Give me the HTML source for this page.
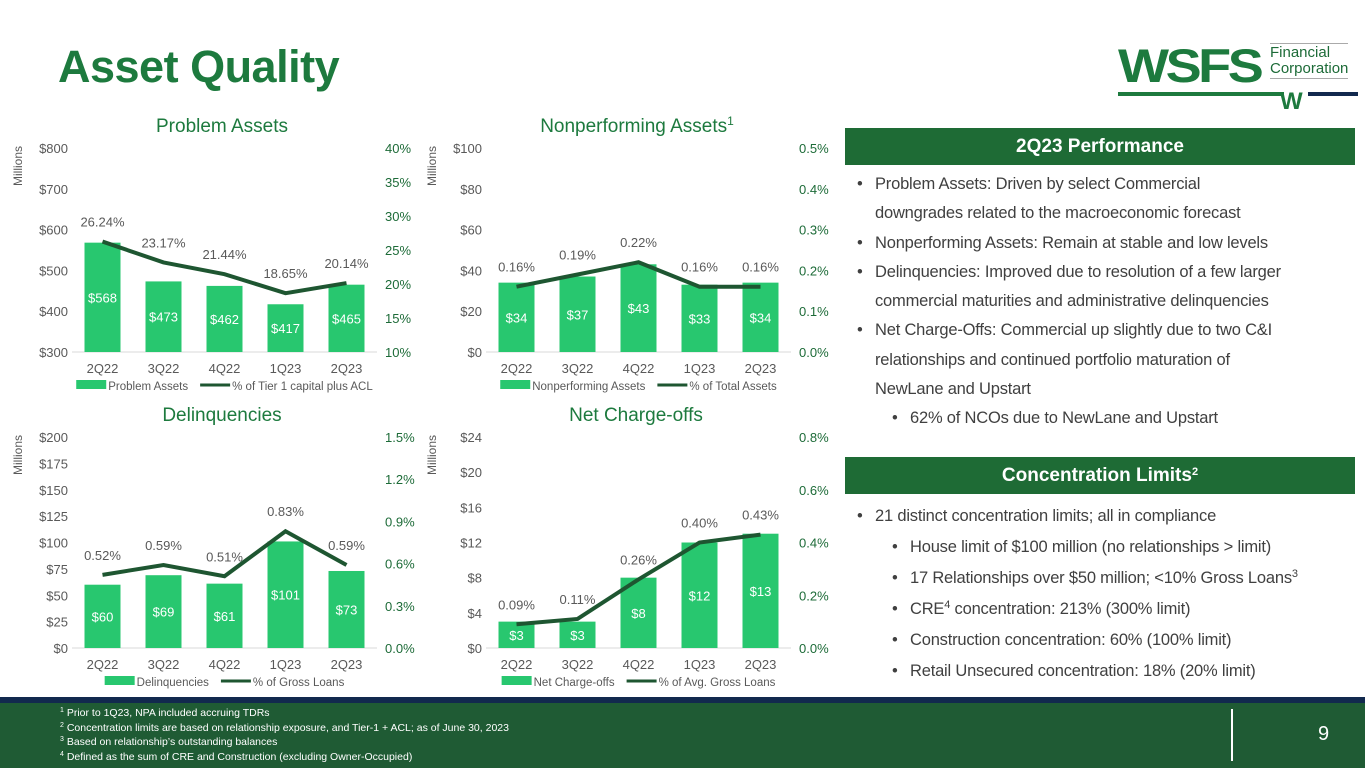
<!DOCTYPE html>
<html><head><meta charset="utf-8"><style>
body{margin:0;width:1365px;height:768px;overflow:hidden;background:#fff;font-family:"Liberation Sans",sans-serif;position:relative}
.abs{position:absolute}
#title{left:58px;top:41px;font-size:45px;font-weight:bold;color:#1d7a3e;letter-spacing:-0.5px}
.hdr{left:845px;width:510px;height:37px;background:#1e6b35;color:#fff;font-weight:bold;font-size:19px;text-align:center;line-height:37px}
.bl{font-size:16.5px;color:#404040;line-height:29.3px;white-space:nowrap;letter-spacing:-0.2px}
.bl div{position:relative}
.bl div:before{content:"•";position:absolute;left:-18px}
sup{line-height:0;vertical-align:6px;font-size:11px}
svg text{font-family:"Liberation Sans",sans-serif}
</style></head><body>
<div id="title" class="abs">Asset Quality</div>
<div class="abs" style="left:1118px;top:38px;width:240px;height:80px">
 <div class="abs" style="left:0;top:0;font-size:47px;font-weight:900;color:#1d7a3e;letter-spacing:-3px;font-family:'Liberation Sans',sans-serif;transform:scaleX(1.15);transform-origin:left">WSFS</div>
 <div class="abs" style="left:152px;top:5px;font-size:15px;color:#1d6b38;line-height:16px;border-top:1px solid #aaa;border-bottom:1px solid #aaa;padding:1px 0">Financial<br>Corporation</div>
 <div class="abs" style="left:0;top:54px;width:166px;height:4px;background:#1d7a3e"></div>
 <div class="abs" style="left:190px;top:54px;width:50px;height:4px;background:#12294e"></div>
 <div class="abs" style="left:162px;top:50px;font-size:24px;font-weight:900;color:#1d7a3e">W</div>
</div>

<svg class="abs" style="left:0;top:0" width="840" height="700" id="charts"></svg>

<div class="abs hdr" style="top:128px">2Q23 Performance</div>
<div class="abs bl" style="left:875px;top:170px;width:470px">
<div>Problem Assets: Driven by select Commercial<br>downgrades related to the macroeconomic forecast</div>
<div>Nonperforming Assets: Remain at stable and low levels</div>
<div>Delinquencies: Improved due to resolution of a few larger<br>commercial maturities and administrative delinquencies</div>
<div>Net Charge-Offs: Commercial up slightly due to two C&amp;I<br>relationships and continued portfolio maturation of<br>NewLane and Upstart</div>
<div style="margin-left:35px">62% of NCOs due to NewLane and Upstart</div>
</div>
<div class="abs hdr" style="top:457px">Concentration Limits<sup>2</sup></div>
<div class="abs bl" style="left:875px;top:501px;width:480px;line-height:31px">
<div>21 distinct concentration limits; all in compliance</div>
<div style="margin-left:35px">House limit of $100 million (no relationships &gt; limit)</div>
<div style="margin-left:35px">17 Relationships over $50 million; &lt;10% Gross Loans<sup>3</sup></div>
<div style="margin-left:35px">CRE<sup>4</sup> concentration: 213% (300% limit)</div>
<div style="margin-left:35px">Construction concentration: 60% (100% limit)</div>
<div style="margin-left:35px">Retail Unsecured concentration: 18% (20% limit)</div>
</div>

<div class="abs" style="left:0;top:697px;width:1365px;height:6px;background:#12294e"></div>
<div class="abs" style="left:0;top:703px;width:1365px;height:65px;background:#1f5b34">
 <div class="abs" style="left:60px;top:3px;font-size:10.5px;color:#fff;line-height:14.5px">
 <sup style="font-size:7px;vertical-align:4px">1</sup> Prior to 1Q23, NPA included accruing TDRs<br>
 <sup style="font-size:7px;vertical-align:4px">2</sup> Concentration limits are based on relationship exposure, and Tier-1 + ACL; as of June 30, 2023<br>
 <sup style="font-size:7px;vertical-align:4px">3</sup> Based on relationship’s outstanding balances<br>
 <sup style="font-size:7px;vertical-align:4px">4</sup> Defined as the sum of CRE and Construction (excluding Owner-Occupied)</div>
 <div class="abs" style="left:1231px;top:6px;width:2px;height:52px;background:#fff"></div>
 <div class="abs" style="left:1318px;top:20px;font-size:20px;color:#fff">9</div>
</div>

<script>
const categories=["2Q22","3Q22","4Q22","1Q23","2Q23"];
const problemAssets=[568,473,462,417,465];
const problemPct=[26.24,23.17,21.44,18.65,20.14];
const npaValues=[34,37,43,33,34];
const npaPct=[0.16,0.19,0.22,0.16,0.16];
const delinqValues=[60,69,61,101,73];
const delinqPct=[0.52,0.59,0.51,0.83,0.59];
const ncoValues=[3,3,8,12,13];
const ncoPct=[0.09,0.11,0.26,0.40,0.43];
const leftTicks1=[300,400,500,600,700,800], rightTicks1=[10,15,20,25,30,35,40];
const leftTicks2=[0,20,40,60,80,100], rightTicks2=[0,0.1,0.2,0.3,0.4,0.5];
const leftTicks3=[0,25,50,75,100,125,150,175,200], rightTicks3=[0,0.3,0.6,0.9,1.2,1.5];
const leftTicks4=[0,4,8,12,16,20,24], rightTicks4=[0,0.2,0.4,0.6,0.8];

const NS="http://www.w3.org/2000/svg";
const svg=document.getElementById('charts');
function mk(tag,attrs,parent,text){const e=document.createElementNS(NS,tag);for(const k in attrs)e.setAttribute(k,attrs[k]);if(text!==undefined)e.textContent=text;(parent||svg).appendChild(e);return e;}

function chart(c){
 const g=mk('g',{});
 
 
 const lmin=c.lt[0],lmax=c.lt[c.lt.length-1],rmin=c.rt[0],rmax=c.rt[c.rt.length-1];
 const yL=v=>c.y1-(v-lmin)/(lmax-lmin)*(c.y1-c.y0);
 const yR=v=>c.y1-(v-rmin)/(rmax-rmin)*(c.y1-c.y0);
 const step=(c.x1-c.x0)/categories.length;
 const xC=i=>c.x0+step*(i+0.5);
 const t=mk('text',{x:c.tx,y:c.y0-16,'text-anchor':'middle','font-size':19,fill:'#1d7a3e'},g,c.title);
 
 
 if(c.sup){mk('tspan',{'font-size':12,dy:-7},t,c.sup);}
 const m=mk('text',{transform:`translate(${c.x0-50},${c.y0+18}) rotate(-90)`,'text-anchor':'middle','font-size':12,fill:'#595959'},g,'Millions');
 
 
 c.lt.forEach(v=>{const e=mk('text',{x:c.x0-4,y:yL(v)+5,'text-anchor':'end','font-size':13,fill:'#595959'},g,'$'+v);
  
  });
 c.rt.forEach(v=>{const e=mk('text',{x:c.x1+8,y:yR(v)+5,'font-size':13,fill:'#1d6b38'},g,v.toFixed(c.rd)+'%');
  
  });
 mk('line',{x1:c.x0,x2:c.x1,y1:c.y1,y2:c.y1,stroke:'#d9d9d9'},g);
 c.bars.forEach((v,i)=>{
  const r=mk('rect',{x:xC(i)-18,y:yL(v),width:36,height:c.y1-yL(v),fill:'#28c76f'},g);
  
  
  const l=mk('text',{x:xC(i),y:(yL(v)+c.y1)/2+5,'text-anchor':'middle','font-size':13,fill:'#fff'},g,'$'+v);
  
  
  const x=mk('text',{x:xC(i),y:c.y1+21,'text-anchor':'middle','font-size':13,fill:'#595959'},g,categories[i]);
  
  
 });
 const p=mk('polyline',{points:c.line.map((v,i)=>xC(i)+','+yR(v)).join(' '),fill:'none',stroke:'#1e5631','stroke-width':4},g);
 
 
 c.line.forEach((v,i)=>{const l=mk('text',{x:xC(i),y:yR(v)-15,'text-anchor':'middle','font-size':13,fill:'#595959'},g,v.toFixed(2)+'%');
  
  });
 const ly=c.y1+38;
 const lg=mk('g',{},g);
 
 
 const r1=mk('rect',{y:ly-10,width:30,height:9,fill:'#28c76f'},lg);
 const t1=mk('text',{y:ly,'font-size':11.5,fill:'#595959'},lg,c.l1);
 const ln=mk('line',{y1:ly-5,y2:ly-5,stroke:'#1e5631','stroke-width':3},lg);
 const t2=mk('text',{y:ly,'font-size':11.5,fill:'#595959'},lg,c.l2);
 const w1=t1.getComputedTextLength(), w2=t2.getComputedTextLength();
 const total=32+w1+12+32+w2;
 let lx=(c.x0+c.x1)/2-total/2;
 r1.setAttribute('x',lx); t1.setAttribute('x',lx+32);
 const l2x=lx+32+w1+12;
 ln.setAttribute('x1',l2x); ln.setAttribute('x2',l2x+30); t2.setAttribute('x',l2x+32);
}
chart({name:'problem-assets-chart',title:'Problem Assets',tx:222,x0:72,x1:377,y0:148,y1:352,lt:leftTicks1,rt:rightTicks1,rd:0,bars:problemAssets,line:problemPct,l1:'Problem Assets',l2:'% of Tier 1 capital plus ACL'});
chart({name:'nonperforming-assets-chart',title:'Nonperforming Assets',sup:'1',tx:637,x0:486,x1:791,y0:148,y1:352,lt:leftTicks2,rt:rightTicks2,rd:1,bars:npaValues,line:npaPct,l1:'Nonperforming Assets',l2:'% of Total Assets'});
chart({name:'delinquencies-chart',title:'Delinquencies',tx:222,x0:72,x1:377,y0:437,y1:648,lt:leftTicks3,rt:rightTicks3,rd:1,bars:delinqValues,line:delinqPct,l1:'Delinquencies',l2:'% of Gross Loans'});
chart({name:'net-charge-offs-chart',title:'Net Charge-offs',tx:636,x0:486,x1:791,y0:437,y1:648,lt:leftTicks4,rt:rightTicks4,rd:1,bars:ncoValues,line:ncoPct,l1:'Net Charge-offs',l2:'% of Avg. Gross Loans'});
</script>
</body></html>
